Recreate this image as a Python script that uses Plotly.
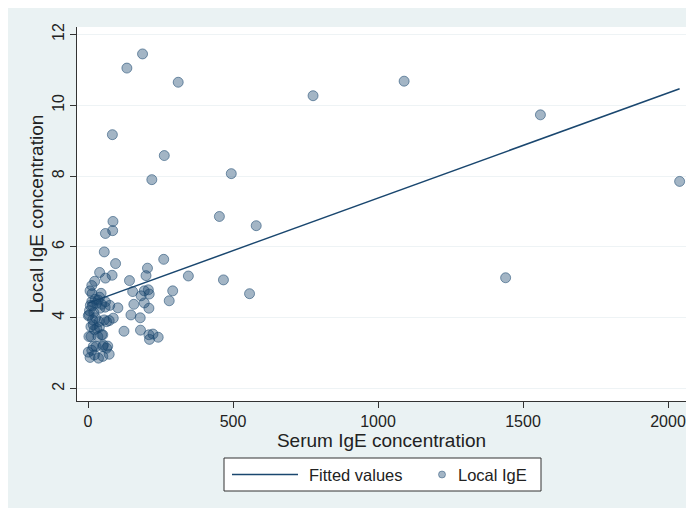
import plotly.graph_objects as go

# ---- data ----
serum_ige = [188, 134, 311, 776, 1090, 1560, 84, 263, 494, 220, 2040, 453, 580, 86, 85, 60,
             1440, 56, 95, 261, 40, 83, 60, 23, 13, 7, 14, 45, 143, 154, 205, 200, 346, 467,
             557, 292, 280, 194, 208, 211, 183, 158, 194, 210, 103, 148, 180, 124, 181, 210,
             224, 242, 212, 40, 13, 15, 30, 47, 59, 41, 1, 87, 64, 26, 38, 18, 30, 3, 47, 18,
             13, 1, 53, 64, 73, 36, 7, 4, 16, 56, 73, 10, 22, 39, 10, 51, 34, 28, 51, 68, 22,
             51, 5, 20, 35, 60, 75, 25, 8]
local_ige = [11.45, 11.05, 10.65, 10.27, 10.68, 9.73, 9.17, 8.58, 8.07, 7.9, 7.85, 6.86, 6.6,
             6.72, 6.46, 6.38, 5.13, 5.86, 5.53, 5.65, 5.28, 5.2, 5.12, 5.03, 4.91, 4.76, 4.68,
             4.69, 5.05, 4.74, 5.4, 5.19, 5.18, 5.07, 4.68, 4.76, 4.48, 4.76, 4.79, 4.67, 4.62,
             4.38, 4.42, 4.27, 4.28, 4.08, 4.0, 3.62, 3.65, 3.52, 3.54, 3.45, 3.39, 4.58, 4.46,
             4.34, 4.41, 4.38, 4.3, 4.27, 4.06, 3.99, 3.89, 4.0, 3.89, 3.8, 3.7, 3.47, 3.52,
             3.19, 3.08, 3.03, 3.23, 3.14, 2.97, 2.86, 2.88, 4.08, 3.94, 3.94, 3.92, 3.75, 3.66,
             3.73, 3.47, 3.52, 3.47, 3.19, 3.19, 3.2, 2.95, 2.91, 4.2, 4.15, 4.5, 4.45, 4.35,
             4.52, 4.35]

# fitted regression line (intercept, slope)
fit_intercept = 4.41
fit_slope = 0.00297

x_ticks = [0, 500, 1000, 1500, 2000]
y_ticks = [2, 4, 6, 8, 10, 12]
legend_names = ["Fitted values", "Local IgE"]

NAVY = "#1a476f"
BG = "#eaf2f3"
FONT = "Liberation Sans, Arial, sans-serif"
TXT = "#222222"

fit_x = [min(serum_ige), max(serum_ige)]
fit_y = [fit_intercept + fit_slope * v for v in fit_x]

fig = go.Figure()
fig.add_trace(go.Scatter(
    x=fit_x, y=fit_y, mode="lines", name=legend_names[0],
    line=dict(color=NAVY, width=1.5), showlegend=False,
))
fig.add_trace(go.Scatter(
    x=serum_ige, y=local_ige, mode="markers", name=legend_names[1],
    marker=dict(size=10, color="rgba(26,71,111,0.40)",
                line=dict(color="rgba(26,71,111,0.55)", width=1)),
    showlegend=False,
))

# figure geometry (page body adds an 8px offset)
L, R, T, B = 69, 8, 19, 107
W, H = 686, 500
pw, ph = W - L - R, H - T - B

def px_x(p):
    return (p - L) / pw

def px_y(p):
    return (H - B - p) / ph

# hand-built legend box (Stata style)
lg_x0, lg_x1, lg_y0, lg_y1 = 216, 533, 450, 483
lg_cy = (lg_y0 + lg_y1) / 2
shapes = [
    dict(type="rect", xref="paper", yref="paper",
         x0=px_x(lg_x0), x1=px_x(lg_x1), y0=px_y(lg_y1), y1=px_y(lg_y0),
         fillcolor="white", line=dict(color="#333333", width=1)),
    dict(type="line", xref="paper", yref="paper",
         x0=px_x(224), x1=px_x(290), y0=px_y(lg_cy), y1=px_y(lg_cy),
         line=dict(color=NAVY, width=1.5)),
    dict(type="circle", xref="paper", yref="paper", xsizemode="pixel", ysizemode="pixel",
         xanchor=px_x(434), yanchor=px_y(lg_cy), x0=-3.5, x1=3.5, y0=-3.5, y1=3.5,
         fillcolor="rgba(26,71,111,0.40)", line=dict(color="rgba(26,71,111,0.45)", width=1)),
]
annotations = [
    dict(text=legend_names[0], xref="paper", yref="paper", x=px_x(299), y=px_y(lg_cy),
         xanchor="left", yanchor="middle", showarrow=False, font=dict(size=16.5, color=TXT)),
    dict(text=legend_names[1], xref="paper", yref="paper", x=px_x(448), y=px_y(lg_cy),
         xanchor="left", yanchor="middle", showarrow=False, font=dict(size=16.5, color=TXT)),
]

fig.update_layout(
    width=W, height=H,
    margin=dict(l=L, r=R, t=T, b=B, autoexpand=False),
    paper_bgcolor=BG,
    plot_bgcolor="white",
    font=dict(family=FONT, size=16, color=TXT),
    showlegend=False,
    shapes=shapes,
    annotations=annotations,
)
fig.update_xaxes(
    range=[-38, 2062], tickvals=x_ticks, ticks="outside", ticklen=6, tickcolor="#333333",
    showline=True, linecolor="#333333", linewidth=1, showgrid=False, zeroline=False,
    automargin=False,
    title=dict(text="Serum IgE concentration", standoff=2),
)
fig.update_yaxes(
    range=[1.65, 12.21], tickvals=y_ticks, ticks="outside", ticklen=6, tickcolor="#333333",
    tickangle=-90, showline=True, linecolor="#333333", linewidth=1,
    showgrid=True, gridcolor="#eef3f5", gridwidth=1, zeroline=False,
    automargin=False,
    title=dict(text="Local IgE concentration", standoff=0),
)

fig.write_html("out.html")
